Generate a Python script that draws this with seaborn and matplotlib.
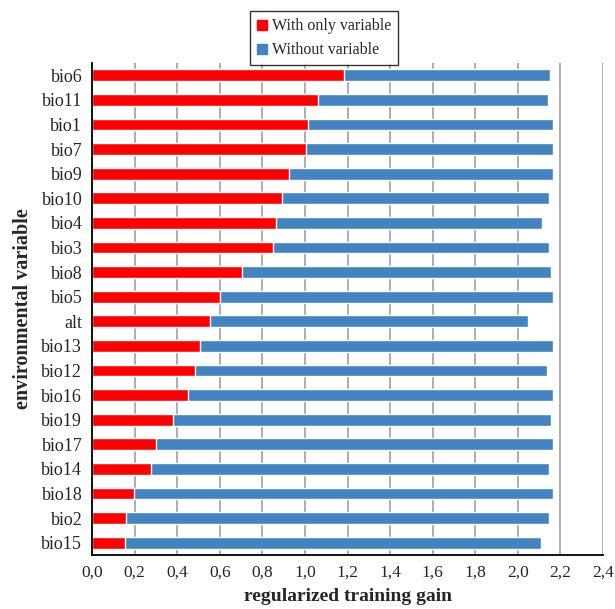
import numpy as np
import pandas as pd
import matplotlib
matplotlib.use("Agg")
import matplotlib.pyplot as plt
from matplotlib.lines import Line2D
import seaborn as sns

# values (regularized training gain)
variables = ["bio6", "bio11", "bio1", "bio7", "bio9", "bio10", "bio4", "bio3", "bio8", "bio5",
             "alt", "bio13", "bio12", "bio16", "bio19", "bio17", "bio14", "bio18", "bio2", "bio15"]
with_only = [1.184, 1.062, 1.016, 1.003, 0.924, 0.893, 0.866, 0.849, 0.704, 0.601,
             0.556, 0.508, 0.484, 0.452, 0.382, 0.302, 0.278, 0.198, 0.159, 0.153]
without = [2.152, 2.141, 2.167, 2.167, 2.164, 2.148, 2.114, 2.147, 2.156, 2.163,
           2.047, 2.164, 2.138, 2.166, 2.158, 2.164, 2.144, 2.163, 2.148, 2.107]
x_ticks = [0.0, 0.2, 0.4, 0.6, 0.8, 1.0, 1.2, 1.4, 1.6, 1.8, 2.0, 2.2, 2.4]
x_tick_labels = ["0,0", "0,2", "0,4", "0,6", "0,8", "1,0", "1,2", "1,4", "1,6", "1,8", "2,0", "2,2", "2,4"]

RED = "#FF0000"
BLUE = "#4383C0"

df = pd.DataFrame({"variable": variables, "with_only": with_only, "without": without})

sns.set_style("white")
plt.rcParams["font.family"] = ["Liberation Serif", "DejaVu Serif"]

fig = plt.figure(figsize=(6.15, 6.09), dpi=100)
ax = fig.add_axes([0.1496, 0.0887, 0.8309, 0.8079])

sns.barplot(data=df, y="variable", x="without", color=BLUE, width=0.48,
            saturation=1, ax=ax, order=variables)
sns.barplot(data=df, y="variable", x="with_only", color=RED, width=0.48,
            saturation=1, ax=ax, order=variables)

ax.set_xlim(0, 2.4)
ax.set_ylim(len(variables) - 0.5, -0.5)
ax.set_xticks(x_ticks)
ax.set_xticklabels(x_tick_labels, fontsize=12.5)
ax.tick_params(axis="x", direction="inout", length=8, width=1.2, color="black", pad=3)

# category labels at centres, tick marks between categories
ax.set_yticks(np.arange(len(variables)))
ax.set_yticklabels(variables, fontsize=13)
ax.set_yticks(np.arange(len(variables) + 1) - 0.5, minor=True)
ax.tick_params(axis="y", which="major", length=0, pad=7)
ax.tick_params(axis="y", which="minor", direction="out", length=5, width=1.2, color="black")

ax.grid(axis="x", color="#A0A0A0", linewidth=1.2)
ax.grid(axis="y", visible=False)
ax.set_axisbelow(True)

for side in ["top", "right"]:
    ax.spines[side].set_visible(False)
for side in ["left", "bottom"]:
    ax.spines[side].set_color("black")
    ax.spines[side].set_linewidth(1.3)

ax.set_xlabel("regularized training gain", fontsize=14, fontweight="bold", labelpad=5)
ax.set_ylabel("environmental variable", fontsize=14.5, fontweight="bold", labelpad=6)

handles = [Line2D([], [], marker="s", linestyle="none", color=RED, markersize=6.5),
           Line2D([], [], marker="s", linestyle="none", color=BLUE, markersize=6.5)]
leg = fig.legend(handles, ["With only variable", "Without variable"], loc="upper center",
                 bbox_to_anchor=(0.527, 0.995), fontsize=11.5, frameon=True, fancybox=False,
                 edgecolor="black", handlelength=0.6, handletextpad=0.3, borderpad=0.45,
                 labelspacing=0.5)
leg.get_frame().set_linewidth(1.0)

fig.savefig("out.png", dpi=100)
